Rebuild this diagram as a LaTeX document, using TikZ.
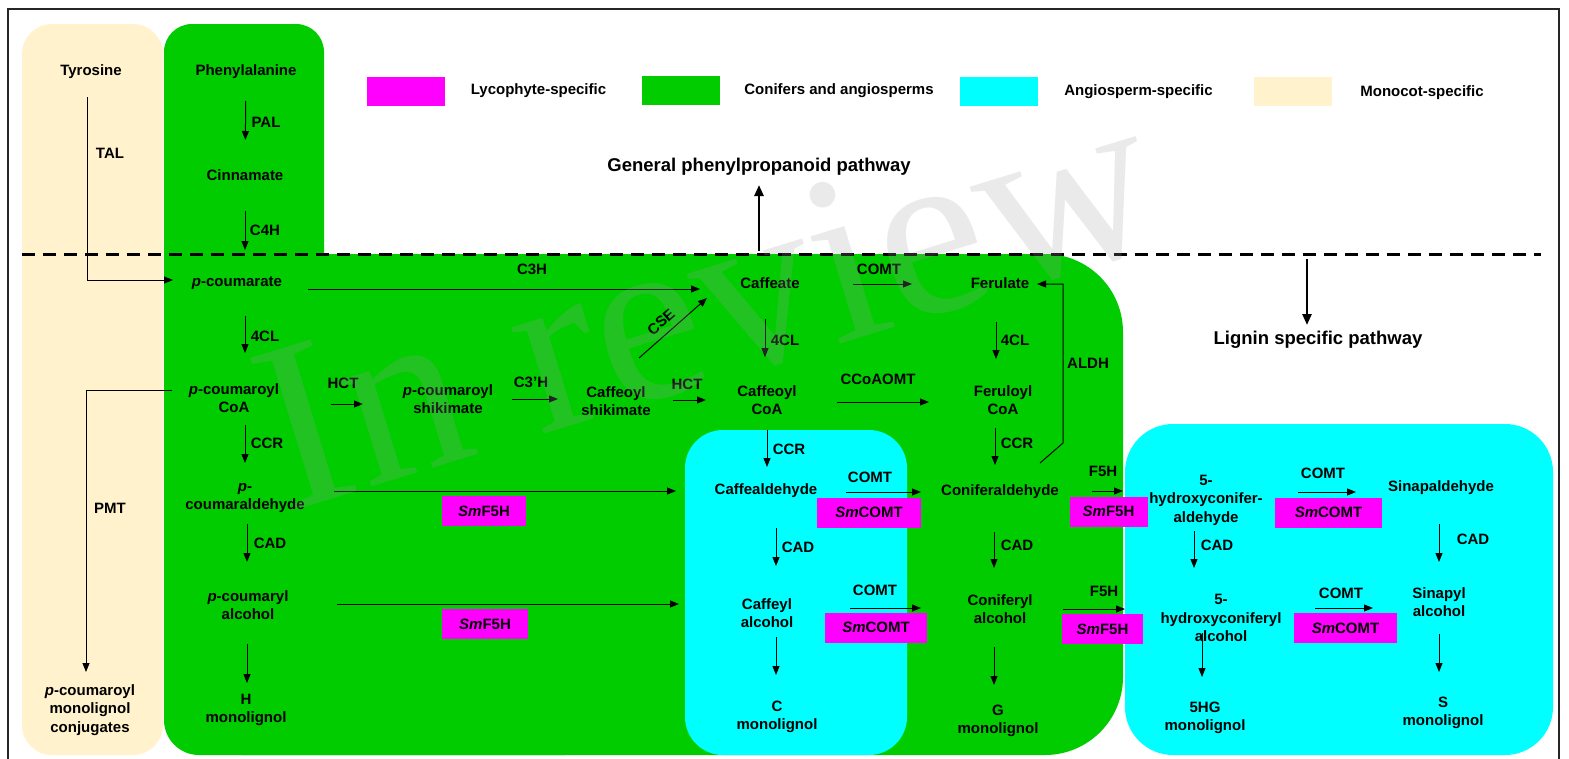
\documentclass[tikz,border=0pt]{standalone}
\usepackage{fontspec}
\setmainfont{Liberation Sans}
\newfontfamily\wmfont{Liberation Serif}
\usepackage{tikz}
\usetikzlibrary{arrows.meta, calc}
\definecolor{lyco}{RGB}{255,0,255}
\definecolor{conif}{RGB}{0,204,0}
\definecolor{angio}{RGB}{0,255,255}
\definecolor{mono}{RGB}{255,242,204}
\definecolor{wmgray}{RGB}{160,160,160}
\tikzset{
  met/.style={align=center, inner sep=0pt},
  enz/.style={inner sep=0pt},
  smbox/.style={fill=lyco, inner sep=0pt, minimum height=30pt},
  legbox/.style={minimum width=78pt, minimum height=29pt, inner sep=0pt},
  arrow/.style={->, >={Stealth[length=9pt, width=7pt, inset=0pt]}, line width=1pt},
  bigarrow/.style={->, >={Stealth[length=11pt, width=9pt, inset=0pt]}, line width=2.5pt},
  heading/.style={inner sep=0pt, font=\fontsize{18.5}{22}\selectfont\bfseries}
}

\begin{document}
\begin{tikzpicture}[x=1pt, y=-1pt, font=\fontsize{15}{18.5}\selectfont\bfseries]
\useasboundingbox (0,0) rectangle (1569,758);

% panels
\fill[mono, rounded corners=30] (22,24) rectangle (163,755);
\fill[conif, rounded corners=28] (164,24) rectangle (324,400);
\fill[conif, rounded corners=78] (164,254) rectangle (1123,755);
\fill[conif, rounded corners=35] (164,400) rectangle (600,755);
\fill[angio, rounded corners=38] (685,430) rectangle (907,755);
\fill[angio, rounded corners=48] (1125,424) rectangle (1553,755);
\draw[line width=1.5pt, black!85] (8,770) -- (8,9) -- (1559,9) -- (1559,770);
\draw[line width=3pt, dash pattern=on 13pt off 8pt] (22,254) -- (1541,254);

% legend
\node[legbox, fill=lyco] (lgLyc) at (406,91.5) {};
\node[enz] (lgLycT) at (538.5,91) {Lycophyte-specific};
\node[legbox, fill=conif] (lgCon) at (681,90.5) {};
\node[enz] (lgConT) at (839,91) {Conifers and angiosperms};
\node[legbox, fill=angio] (lgAng) at (998.5,91.5) {};
\node[enz] (lgAngT) at (1138.5,92) {Angiosperm-specific};
\node[legbox, fill=mono] (lgMon) at (1292.5,91) {};
\node[enz] (lgMonT) at (1422,93) {Monocot-specific};

% pathway headings
\node[heading] (gen) at (759,167) {General phenylpropanoid pathway};
\node[heading] (lig) at (1318,340) {Lignin specific pathway};
\coordinate (gbase) at (759,251);
\coordinate (lbase) at (1307,259);
\draw[bigarrow, shorten >=18pt] (gbase) -- (gen.center);
\draw[bigarrow, shorten >=15pt] (lbase) -- ([xshift=-11pt]lig.center);

% metabolites
\node[met] (tyr) at (91,72) {Tyrosine};
\node[met] (conj) at (90,710) {\textit{p}-coumaroyl\\monolignol\\conjugates};
\node[met] (phe) at (246,72) {Phenylalanine};
\node[met] (cin) at (245,175) {Cinnamate};
\node[met] (pcou) at (237,283) {\textit{p}-coumarate};
\node[met] (pcoa) at (234,398) {\textit{p}-coumaroyl\\CoA};
\node[met] (pcald) at (245,498) {\textit{p}-\\coumaraldehyde};
\node[met] (pcalc) at (248,605) {\textit{p}-coumaryl\\alcohol};
\node[met] (Hmono) at (246,710) {H\\monolignol};
\node[met] (pcshik) at (448,399) {\textit{p}-coumaroyl\\shikimate};
\node[met] (cafshik) at (616,401) {Caffeoyl\\shikimate};
\node[met] (cafte) at (770,283) {Caffeate};
\node[met] (ferul) at (1000,283) {Ferulate};
\node[met] (cafcoa) at (767,400) {Caffeoyl\\CoA};
\node[met] (fercoa) at (1003,400) {Feruloyl\\CoA};
\node[met] (cafald) at (766,491) {Caffealdehyde};
\node[met] (conald) at (1000,492) {Coniferaldehyde};
\node[met] (cafalc) at (767,613) {Caffeyl\\alcohol};
\node[met] (conalc) at (1000,609) {Coniferyl\\alcohol};
\node[met] (Cmono) at (777,717) {C\\monolignol};
\node[met] (Gmono) at (998,721) {G\\monolignol};
\node[met] (hcald) at (1206,500) {5-\\hydroxyconifer-\\aldehyde};
\node[met] (sinald) at (1441,488) {Sinapaldehyde};
\node[met] (hcalc) at (1221,618) {5-\\hydroxyconiferyl\\alcohol};
\node[met] (sinalc) at (1439,602) {Sinapyl\\alcohol};
\node[met] (HGmono) at (1205,718) {5HG\\monolignol};
\node[met] (Smono) at (1443,713) {S\\monolignol};

% lycophyte enzymes
\node[smbox, minimum width=84pt] (sm1) at (484,511) {\textit{Sm}F5H};
\node[smbox, minimum width=86pt] (sm2) at (485,624) {\textit{Sm}F5H};
\node[smbox, minimum width=104pt] (sm3) at (869,512.5) {\textit{Sm}COMT};
\node[smbox, minimum width=102pt] (sm4) at (876,627.5) {\textit{Sm}COMT};
\node[smbox, minimum width=78pt] (sm5) at (1108.5,511.5) {\textit{Sm}F5H};
\node[smbox, minimum width=81pt] (sm6) at (1102.5,629) {\textit{Sm}F5H};
\node[smbox, minimum width=107pt] (sm7) at (1328.5,512.5) {\textit{Sm}COMT};
\node[smbox, minimum width=103pt] (sm8) at (1345.5,628) {\textit{Sm}COMT};

% enzyme labels
\node[enz] (eTAL) at (110,153) {TAL};
\node[enz] (ePMT) at (110,508) {PMT};
\node[enz] (ePAL) at (266,122) {PAL};
\node[enz] (eC4H) at (265,230) {C4H};
\node[enz] (e4CLa) at (265,336) {4CL};
\node[enz] (eCCRa) at (267,443) {CCR};
\node[enz] (eCADa) at (270,543) {CAD};
\node[enz] (eC3H) at (532,269) {C3H};
\node[enz] (eHCTa) at (343,383) {HCT};
\node[enz] (eC3pH) at (531,382) {C3'H};
\node[enz, rotate=41] (eCSE) at (661,322) {CSE};
\node[enz] (eHCTb) at (687,384) {HCT};
\node[enz] (eCOMTa) at (879,269) {COMT};
\node[enz] (e4CLb) at (785,340) {4CL};
\node[enz] (e4CLc) at (1015,340) {4CL};
\node[enz] (eCCoA) at (878,379) {CCoAOMT};
\node[enz] (eALDH) at (1088,363) {ALDH};
\node[enz] (eCCRb) at (789,449) {CCR};
\node[enz] (eCCRc) at (1017,443) {CCR};
\node[enz] (eCOMTb) at (870,477) {COMT};
\node[enz] (eF5Ha) at (1103,471) {F5H};
\node[enz] (eCADb) at (798,547) {CAD};
\node[enz] (eCADc) at (1017,545) {CAD};
\node[enz] (eCOMTc) at (875,590) {COMT};
\node[enz] (eF5Hb) at (1104,591) {F5H};
\node[enz] (eCOMTd) at (1323,473) {COMT};
\node[enz] (eCADd) at (1217,545) {CAD};
\node[enz] (eCADe) at (1473,539) {CAD};
\node[enz] (eCOMTe) at (1341,593) {COMT};

% vertical steps
\draw[arrow, shorten <=29pt, shorten >=35pt] (phe.center) -- (cin.center);
\draw[arrow, shorten <=36pt, shorten >=33pt] (cin.center) -- ([xshift=8pt]pcou.center);
\draw[arrow, shorten <=33pt, shorten >=45pt] ([xshift=8pt]pcou.center) -- ([xshift=11pt]pcoa.center);
\draw[arrow, shorten <=27pt, shorten >=35pt] ([xshift=11pt]pcoa.center) -- (pcald.center);
\draw[arrow, shorten <=26pt, shorten >=43pt] ([xshift=2pt]pcald.center) -- ([xshift=-1pt]pcalc.center);
\draw[arrow, shorten <=39pt, shorten >=27pt] ([xshift=-1pt]pcalc.center) -- ([xshift=1pt]Hmono.center);
\draw[arrow, shorten <=36pt, shorten >=43pt] ([xshift=-5pt]cafte.center) -- ([xshift=-2pt]cafcoa.center);
\draw[arrow, shorten <=39pt, shorten >=41pt] ([xshift=-4pt]ferul.center) -- ([xshift=-7pt]fercoa.center);
\draw[arrow, shorten <=30pt, shorten >=24pt] (cafcoa.center) -- ([xshift=1pt]cafald.center);
\draw[arrow, shorten <=28pt, shorten >=27pt] ([xshift=-8pt]fercoa.center) -- ([xshift=-5pt]conald.center);
\draw[arrow, shorten <=37pt, shorten >=47pt] ([xshift=10pt]cafald.center) -- ([xshift=9pt]cafalc.center);
\draw[arrow, shorten <=24pt, shorten >=42pt] ([xshift=9pt]cafalc.center) -- ([xshift=-1pt]Cmono.center);
\draw[arrow, shorten <=40pt, shorten >=41pt] ([xshift=-6pt]conald.center) -- ([xshift=-6pt]conalc.center);
\draw[arrow, shorten <=38pt, shorten >=36pt] ([xshift=-6pt]conalc.center) -- ([xshift=-4pt]Gmono.center);
\draw[arrow, shorten <=31pt, shorten >=50pt] ([xshift=-12pt]hcald.center) -- ([xshift=-27pt]hcalc.center);
\draw[arrow, shorten <=15pt, shorten >=41pt] ([xshift=-19pt]hcalc.center) -- ([xshift=-3pt]HGmono.center);
\draw[arrow, shorten <=36pt, shorten >=40pt] ([xshift=-2pt]sinald.center) -- (sinalc.center);
\draw[arrow, shorten <=32pt, shorten >=41pt] (sinalc.center) -- ([xshift=-4pt]Smono.center);

% horizontal steps
\draw[arrow, shorten <=71pt, shorten >=70pt] ([yshift=-6pt]pcou.center) -- ([yshift=-6pt]cafte.center);
\draw[arrow, shorten <=97pt, shorten >=85pt] ([yshift=-6pt]pcoa.center) -- ([yshift=-5pt]pcshik.center);
\draw[arrow, shorten <=64pt, shorten >=58pt] (pcshik.center) -- ([yshift=2pt]cafshik.center);
\draw[arrow, shorten <=57pt, shorten >=61pt] ([yshift=1pt]cafshik.center) -- (cafcoa.center);
\draw[arrow] ([xshift=23pt, yshift=43pt]cafshik.center) -- ([xshift=-63pt, yshift=-15pt]cafte.center);
\draw[arrow, shorten <=83pt, shorten >=88pt] ([yshift=-1pt]cafte.center) -- ([yshift=-1pt]ferul.center);
\draw[arrow, shorten <=70pt, shorten >=74pt] ([yshift=-2pt]cafcoa.center) -- ([yshift=-2pt]fercoa.center);
\draw[arrow, shorten >=37pt] ([xshift=40pt, yshift=29pt]conald.center) -- ++(23,-20) |- ([yshift=-1pt]ferul.center);
\draw[arrow, shorten <=80pt, shorten >=79pt] ([yshift=-1pt]cafald.center) -- (conald.center);
\draw[arrow, shorten <=92pt, shorten >=83pt] ([yshift=1pt]conald.center) -- ([yshift=9pt]hcald.center);
\draw[arrow, shorten <=83pt, shorten >=79pt] ([yshift=5pt]cafalc.center) -- ([yshift=1pt]conalc.center);
\draw[arrow, shorten <=63pt, shorten >=96pt] (conalc.center) -- ([yshift=9pt]hcalc.center);
\draw[arrow, shorten <=92pt, shorten >=85pt] ([yshift=8pt]hcald.center) -- ([yshift=-4pt]sinald.center);
\draw[arrow, shorten <=94pt, shorten >=66pt] ([yshift=10pt]hcalc.center) -- ([yshift=-6pt]sinalc.center);
\draw[arrow, shorten <=89pt, shorten >=90pt] ([yshift=7pt]pcald.center) -- (cafald.center);
\draw[arrow, shorten <=89pt, shorten >=88pt] ([yshift=1pt]pcalc.center) -- ([yshift=9pt]cafalc.center);

% monocot branches
\draw[arrow, line width=0.8pt, shorten <=25pt, shorten >=64pt] ([xshift=-4pt]tyr.center) |- ([yshift=3pt]pcou.center);
\draw[arrow, line width=0.8pt, shorten <=62pt, shorten >=38pt] ([yshift=8pt]pcoa.center) -| ([xshift=-4pt]conj.center);

% watermark
\node[wmgray, text opacity=0.22, rotate=17, inner sep=0pt,
      font=\wmfont\fontsize{242}{242}\selectfont] (wm) at (706,302) {In review};
\end{tikzpicture}
\end{document}
